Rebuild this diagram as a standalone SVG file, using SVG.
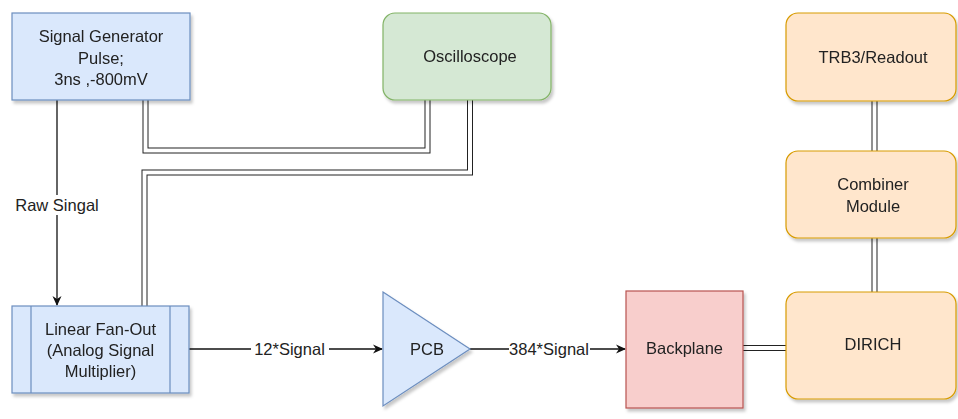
<svg xmlns="http://www.w3.org/2000/svg" width="958" height="419" viewBox="0 0 958 419">
<defs>
<filter id="sh" x="-10%" y="-10%" width="130%" height="130%">
<feDropShadow dx="2" dy="3" stdDeviation="1.5" flood-color="#000" flood-opacity="0.22"/>
</filter>
<marker id="arr" viewBox="0 0 10 10" refX="9" refY="5" markerWidth="10" markerHeight="10" markerUnits="userSpaceOnUse" orient="auto">
<path d="M0,0.5 L10,5 L0,9.5 L3,5 Z" fill="#111"/>
</marker>
</defs>
<style>
text{font-family:"Liberation Sans",Arial,sans-serif;font-size:16.5px;fill:#222;text-anchor:middle}
.blue{fill:#dae8fc;stroke:#6c8ebf;stroke-width:1.2}
.green{fill:#d5e8d4;stroke:#82b366;stroke-width:1.2}
.orange{fill:#ffe6cc;stroke:#d79b00;stroke-width:1.2}
.red{fill:#f8cecc;stroke:#b85450;stroke-width:1.2}
.lo{fill:none;stroke:#222;stroke-width:6}
.li{fill:none;stroke:#fff;stroke-width:4}
.edge{fill:none;stroke:#111;stroke-width:1.3}
.lbl{fill:#fff}
</style>
<rect width="958" height="419" fill="#fff"/>
<g id="connectors">
<path class="lo" d="M145.5,100 V150.5 H427.5 V100"/>
<path class="li" d="M145.5,100 V150.5 H427.5 V100"/>
<path class="lo" d="M144.5,306 V172.5 H470 V100"/>
<path class="li" d="M144.5,306 V172.5 H470 V100"/>
<path class="lo" d="M743,348 H786"/>
<path class="li" d="M743,348 H786"/>
<path class="lo" d="M874.5,238 V292"/>
<path class="li" d="M874.5,238 V292"/>
<path class="lo" d="M874.5,101 V151"/>
<path class="li" d="M874.5,101 V151"/>
<path class="edge" d="M57,100 V305" marker-end="url(#arr)"/>
<rect class="lbl" x="15" y="195" width="84" height="20"/>
<text x="57" y="210.5">Raw Singal</text>
<path class="edge" d="M189,349 H382" marker-end="url(#arr)"/>
<rect class="lbl" x="251" y="339" width="78" height="20"/>
<text x="289.5" y="355">12*Signal</text>
<path class="edge" d="M470,349 H625" marker-end="url(#arr)"/>
<rect class="lbl" x="509" y="339" width="81" height="20"/>
<text x="549" y="355">384*Signal</text>
</g>
<g id="signal-generator" filter="url(#sh)">
<rect class="blue" x="12" y="13" width="178" height="87"/>
<text x="101" y="42">Signal Generator</text>
<text x="101" y="63.5">Pulse;</text>
<text x="101" y="85">3ns ,-800mV</text>
</g>
<g id="oscilloscope" filter="url(#sh)">
<rect class="green" x="383" y="13" width="168" height="87" rx="12"/>
<text x="470" y="62">Oscilloscope</text>
</g>
<g id="linear-fan-out" filter="url(#sh)">
<rect class="blue" x="12" y="306" width="177" height="87"/>
<path d="M31,306 V393 M170,306 V393" stroke="#6c8ebf" stroke-width="1.2" fill="none"/>
<text x="100.5" y="334.5">Linear Fan-Out</text>
<text x="100.5" y="355.5">(Analog Signal</text>
<text x="100.5" y="377">Multiplier)</text>
</g>
<g id="pcb" filter="url(#sh)">
<path class="blue" d="M383,292 L470,349 L383,406 Z"/>
<text x="427" y="355">PCB</text>
</g>
<g id="backplane" filter="url(#sh)">
<rect class="red" x="626" y="291" width="117" height="117"/>
<text x="684.5" y="354">Backplane</text>
</g>
<g id="dirich" filter="url(#sh)">
<rect class="orange" x="786" y="292" width="170" height="107" rx="12"/>
<text x="873" y="350">DIRICH</text>
</g>
<g id="combiner-module" filter="url(#sh)">
<rect class="orange" x="786" y="151" width="170" height="87" rx="12"/>
<text x="873" y="189.5">Combiner</text>
<text x="873" y="211.5">Module</text>
</g>
<g id="trb3-readout" filter="url(#sh)">
<rect class="orange" x="786" y="13" width="170" height="88" rx="12"/>
<text x="873" y="62.5">TRB3/Readout</text>
</g>
</svg>
